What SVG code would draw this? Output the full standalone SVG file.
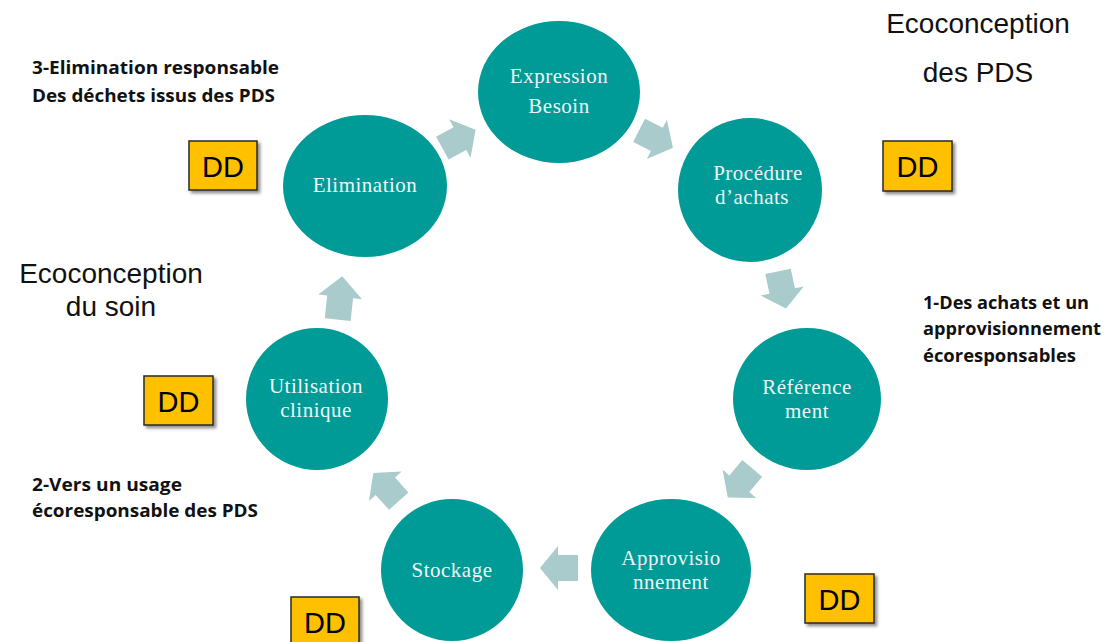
<svg xmlns="http://www.w3.org/2000/svg" xmlns:xlink="http://www.w3.org/1999/xlink" width="1107" height="642" viewBox="0 0 1107 642">
  <defs>
    <style>
      .node { fill: #009A97; }
      .nt { font-family: "Liberation Serif", "DejaVu Serif", serif; font-size: 21px; fill: #EEF7F6; text-anchor: middle; letter-spacing: 0.5px; }
      .arr { fill: #A9CBCB; }
      .dd rect { fill: #FFC000; stroke: #2A2A2A; stroke-width: 1.5; filter: url(#sh); }
      .dd text { font-family: "Liberation Sans", Arial, sans-serif; font-size: 29px; fill: #000; text-anchor: middle; }
      .big { font-family: "Liberation Sans", Arial, sans-serif; font-size: 28px; fill: #111; text-anchor: middle; }
      .lbl { font-family: "Open Sans", "Lato", "Liberation Sans", sans-serif; font-size: 18px; font-weight: bold; fill: #111; }
    </style>
    <filter id="sh" x="-20%" y="-20%" width="150%" height="150%">
      <feDropShadow dx="2.5" dy="2.5" stdDeviation="1.5" flood-color="#000" flood-opacity="0.45"/>
    </filter>
    <path id="arrow" d="M-19,-13 L1,-13 L1,-22 L19,0 L1,22 L1,13 L-19,13 Z"/>
  </defs>

  <rect x="0" y="0" width="1107" height="642" fill="#FFFFFF"/>

  <g id="connectors" class="arr">
    <use href="#arrow" transform="translate(459,139) rotate(-29)"/>
    <use href="#arrow" transform="translate(656,139) rotate(27)"/>
    <use href="#arrow" transform="translate(782,290) rotate(78)"/>
    <use href="#arrow" transform="translate(740,483) rotate(130)"/>
    <use href="#arrow" transform="translate(559,568) rotate(180)"/>
    <use href="#arrow" transform="translate(386,487) rotate(-132)"/>
    <use href="#arrow" transform="translate(340,298) rotate(-84) scale(1.15,1)"/>
  </g>

  <g id="node-expression">
    <ellipse class="node" cx="559" cy="92" rx="81" ry="71"/>
    <text class="nt" x="559" y="83">Expression</text>
    <text class="nt" x="559" y="113">Besoin</text>
  </g>
  <g id="node-procedure">
    <ellipse class="node" cx="750" cy="190" rx="72" ry="72"/>
    <text class="nt" x="758" y="180">Procédure</text>
    <text class="nt" x="752" y="204">d’achats</text>
  </g>
  <g id="node-referencement">
    <ellipse class="node" cx="807" cy="399" rx="74" ry="71"/>
    <text class="nt" x="807" y="394">Référence</text>
    <text class="nt" x="807" y="418">ment</text>
  </g>
  <g id="node-approvisionnement">
    <ellipse class="node" cx="671" cy="570" rx="80" ry="71"/>
    <text class="nt" x="671" y="565">Approvisio</text>
    <text class="nt" x="671" y="589">nnement</text>
  </g>
  <g id="node-stockage">
    <ellipse class="node" cx="452" cy="570" rx="71" ry="71"/>
    <text class="nt" x="452" y="577">Stockage</text>
  </g>
  <g id="node-utilisation">
    <ellipse class="node" cx="317" cy="399" rx="71" ry="71"/>
    <text class="nt" x="316" y="393">Utilisation</text>
    <text class="nt" x="316" y="417">clinique</text>
  </g>
  <g id="node-elimination">
    <ellipse class="node" cx="365" cy="186" rx="82" ry="71"/>
    <text class="nt" x="365" y="192">Elimination</text>
  </g>

  <g id="dd-1" class="dd"><rect x="189" y="141" width="68" height="49"/><text x="223" y="177">DD</text></g>
  <g id="dd-2" class="dd"><rect x="883" y="141" width="69" height="50"/><text x="917.5" y="177">DD</text></g>
  <g id="dd-3" class="dd"><rect x="144" y="376" width="69" height="49"/><text x="178.5" y="412">DD</text></g>
  <g id="dd-4" class="dd"><rect x="805" y="574" width="69" height="49"/><text x="839.5" y="610">DD</text></g>
  <g id="dd-5" class="dd"><rect x="291" y="597" width="68" height="49"/><text x="325" y="633">DD</text></g>

  <g id="title-pds">
    <text class="big" x="978" y="33">Ecoconception</text>
    <text class="big" x="978" y="82">des PDS</text>
  </g>
  <g id="title-soin">
    <text class="big" x="111" y="283">Ecoconception</text>
    <text class="big" x="111" y="316">du soin</text>
  </g>

  <g id="label-3">
    <text class="lbl" x="32" y="74" textLength="247" lengthAdjust="spacingAndGlyphs">3-Elimination responsable</text>
    <text class="lbl" x="32" y="102" textLength="243" lengthAdjust="spacingAndGlyphs">Des déchets issus des PDS</text>
  </g>
  <g id="label-1">
    <text class="lbl" x="923" y="309" textLength="166" lengthAdjust="spacingAndGlyphs">1-Des achats et un</text>
    <text class="lbl" x="923" y="335" textLength="178" lengthAdjust="spacingAndGlyphs">approvisionnement</text>
    <text class="lbl" x="923" y="362" textLength="153" lengthAdjust="spacingAndGlyphs">écoresponsables</text>
  </g>
  <g id="label-2">
    <text class="lbl" x="32" y="491" textLength="150" lengthAdjust="spacingAndGlyphs">2-Vers un usage</text>
    <text class="lbl" x="32" y="517" textLength="226" lengthAdjust="spacingAndGlyphs">écoresponsable des PDS</text>
  </g>
</svg>
